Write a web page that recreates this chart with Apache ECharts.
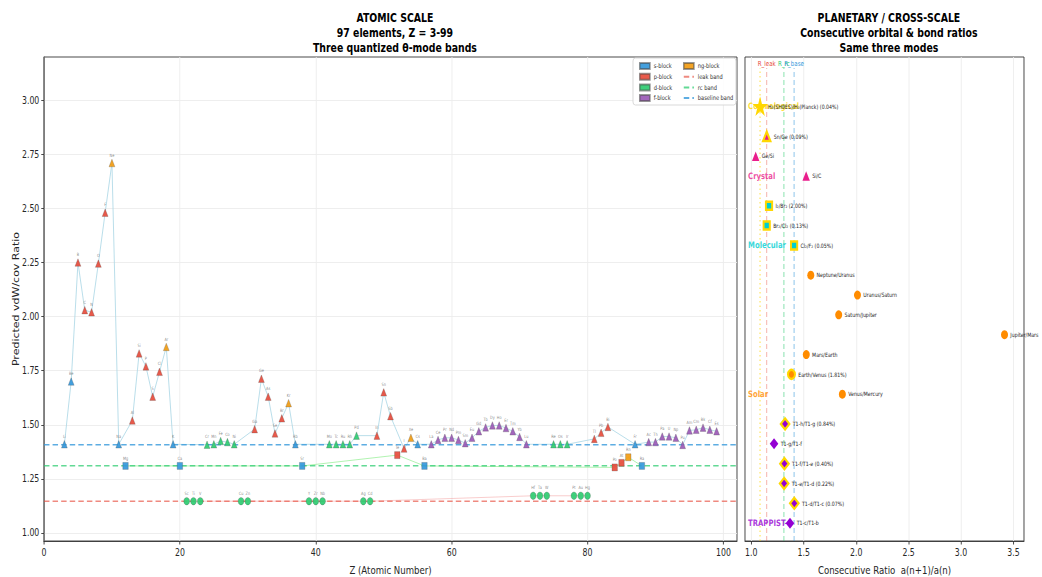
<!DOCTYPE html>
<html>
<head>
<meta charset="utf-8">
<title>Quantized θ-mode bands</title>
<script src="https://cdn.jsdelivr.net/npm/echarts@6/dist/echarts.min.js"></script>
<style>
  html, body { margin: 0; padding: 0; background: #fff; overflow: hidden; }
  #wrap { width: 1042px; height: 577px; overflow: hidden; position: relative; }
  /* the figure is laid out on a wider canvas and compressed horizontally */
  #chart { width: 1336px; height: 577px; transform: scaleX(0.779940); transform-origin: 0 0; }
</style>
</head>
<body>
<div id="wrap"><div id="chart"></div></div>
<script>
// ---------------- atomic scale data (Z = 3..99) ----------------
const firstZ = 3;
const elements = [
  'Li','Be','B','C','N','O','F','Ne',
  'Na','Mg','Al','Si','P','S','Cl','Ar',
  'K','Ca','Sc','Ti','V','Cr','Mn','Fe','Co','Ni','Cu','Zn','Ga','Ge','As','Se','Br','Kr',
  'Rb','Sr','Y','Zr','Nb','Mo','Tc','Ru','Rh','Pd','Ag','Cd','In','Sn','Sb','Te','I','Xe',
  'Cs','Ba','La','Ce','Pr','Nd','Pm','Sm','Eu','Gd','Tb','Dy','Ho','Er','Tm','Yb','Lu',
  'Hf','Ta','W','Re','Os','Ir','Pt','Au','Hg','Tl','Pb','Bi','Po','At','Rn',
  'Fr','Ra','Ac','Th','Pa','U','Np','Pu','Am','Cm','Bk','Cf','Es'
];
const predictedRatio = [
  1.41, 1.70, 2.25, 2.03, 2.02, 2.245, 2.48, 2.71,
  1.41, 1.31, 1.52, 1.83, 1.77, 1.63, 1.745, 1.86,
  1.41, 1.31, 1.147, 1.147, 1.147, 1.408, 1.41, 1.425, 1.42, 1.41, 1.147, 1.147, 1.48, 1.713, 1.63, 1.46, 1.53, 1.60,
  1.41, 1.31, 1.147, 1.147, 1.147, 1.41, 1.41, 1.41, 1.41, 1.45, 1.147, 1.147, 1.45, 1.65, 1.54, 1.36, 1.39, 1.44,
  1.41, 1.31, 1.41, 1.43, 1.44, 1.44, 1.43, 1.415, 1.44, 1.47, 1.488, 1.497, 1.497, 1.485, 1.47, 1.444, 1.41,
  1.172, 1.172, 1.172, 1.41, 1.41, 1.41, 1.172, 1.172, 1.172, 1.435, 1.463, 1.49, 1.303, 1.324, 1.35,
  1.41, 1.31, 1.42, 1.42, 1.446, 1.446, 1.44, 1.407, 1.474, 1.477, 1.487, 1.477, 1.47
];
// block of each element: s, p, d, f, g (= noble gas)
const blockCodes = (
  'sspppppg' + 'sspppppg' +
  'ss' + 'dddddddddd' + 'ppppp' + 'g' +
  'ss' + 'dddddddddd' + 'ppppp' + 'g' +
  'ss' + 'fffffffffffffff' + 'ddddddddd' + 'ppppp' + 'g' +
  'ss' + 'fffffffffff'
).split('');
// assigned mode of each element: b = baseline, r = rc, l = leak
const modeCodes = (
  'bbbbbbbb' + 'brbbbbbb' +
  'brlllbbbbbllbbbbbb' +
  'brlllbbbbbllbbbrbb' +
  'br' + 'bbbbbbbbbbbbbbb' + 'lll' + 'bbb' + 'lll' + 'bbb' + 'rrr' +
  'br' + 'bbbbbbbbbbb'
).split('');

const blockOrder = ['s', 'p', 'd', 'f', 'g'];
const blockNames = ['s-block', 'p-block', 'd-block', 'f-block', 'ng-block'];

// the three quantized bands
const bandNames = ['leak band', 'rc band', 'baseline band'];
const bandRatios = [1.147, 1.311, 1.408];

// tick labels
const zTicks = [0, 20, 40, 60, 80, 100];
const ratioTicks = [1.00, 1.25, 1.50, 1.75, 2.00, 2.25, 2.50, 2.75, 3.00];
const crossTicks = [1.0, 1.5, 2.0, 2.5, 3.0, 3.5];

// ---------------- cross-scale data (listed bottom to top) ----------------
const groupNames = ['TRAPPIST-1', 'Solar', 'Molecular', 'Crystal', 'Cosmological'];
const trappistPairs = ['T1-c/T1-b', 'T1-d/T1-c', 'T1-e/T1-d', 'T1-f/T1-e', 'T1-g/T1-f', 'T1-h/T1-g'];
const trappistRatios = [1.369, 1.410, 1.313, 1.316, 1.217, 1.322];
const trappistDev = ['', '0.07%', '0.22%', '0.40%', '', '0.84%'];
const solarPairs = ['Venus/Mercury', 'Earth/Venus', 'Mars/Earth', 'Jupiter/Mars', 'Saturn/Jupiter', 'Uranus/Saturn', 'Neptune/Uranus'];
const solarRatios = [1.868, 1.383, 1.524, 3.414, 1.833, 2.012, 1.567];
const solarDev = ['', '1.81%', '', '', '', '', ''];
const molecularPairs = ['Cl₂/F₂', 'Br₂/Cl₂', 'I₂/Br₂'];
const molecularRatios = [1.408, 1.147, 1.169];
const molecularDev = ['0.05%', '0.13%', '2.00%'];
const crystalPairs = ['Si/C', 'Ge/Si', 'Sn/Ge'];
const crystalRatios = [1.523, 1.042, 1.147];
const crystalDev = ['', '', '0.09%'];
const cosmoPairs = ['H₀(SH0ES)/H₀(Planck)'];
const cosmoRatios = [1.084];
const cosmoDev = ['0.04%'];

const modeLineNames = ['', 'R_leak', 'R_rc', 'R_base'];
const modeLineRatios = [1.0833, 1.147, 1.311, 1.408];

// ---------------- styling ----------------
const SX = 1042 / 1336;
const ux = x => x / SX;          // page x -> layout x
const FONT = 'DejaVu Sans';
const CLEAR = 'rgba(0,0,0,0)';
const blockColor = { s: '#3498db', p: '#e74c3c', d: '#2ecc71', f: '#9b59b6', g: '#f39c12' };
const modeSymbol = { b: 'triangle', r: 'rect', l: 'circle' };
const modeSize = { b: 7.5, r: 7, l: 7.5 };
const modeLink = { b: 'rgba(173,216,230,0.95)', r: 'rgba(144,238,144,0.8)', l: 'rgba(240,128,128,0.45)' };
const bandColor = ['rgba(231,76,60,0.65)', 'rgba(46,204,113,0.75)', 'rgba(52,152,219,0.8)'];
const modeLineColor = ['rgba(255,215,0,0.8)', 'rgba(231,76,60,0.45)', 'rgba(46,204,113,0.6)', 'rgba(52,152,219,0.6)'];
const modeTextColor = ['#e6c200', '#e74c3c', '#2ecc71', '#3498db'];
const modeLineDash = [[1.5, 3], [5, 3], [5, 3], [5, 3]];
const groupColor = ['#9400d3', '#ff8c00', '#00ced1', '#e91e8c', '#ffd700'];
const groupSymbol = ['diamond', 'circle', 'rect', 'triangle',
  'path://M50,0 L61.8,35.4 L99,35.4 L69,57.3 L80.4,92.7 L50,70.8 L19.6,92.7 L31,57.3 L1,35.4 L38.2,35.4 Z'];
const groupSize = [11, 9, 8, 9.5, 12];

const xLeftMin = 0, xLeftMax = 102, yLeftMin = 0.963, yLeftMax = 3.2;
const xRightMin = 0.94, xRightMax = 3.6, yRightMin = -0.9, yRightMax = 23.5;

// ---------------- build series ----------------
const points = elements.map((sym, i) => ({
  z: firstZ + i, sym, v: predictedRatio[i], block: blockCodes[i], mode: modeCodes[i]
}));

const series = [];

// thin links joining elements of the same mode in Z order
['b', 'r', 'l'].forEach(m => {
  series.push({
    type: 'line', name: 'link-' + m, xAxisIndex: 0, yAxisIndex: 0,
    data: points.filter(p => p.mode === m).map(p => [p.z, p.v]),
    symbol: 'none', silent: true, z: 1,
    lineStyle: { color: modeLink[m], width: 1 }
  });
});

// band reference lines (transparent item colour keeps the legend icon a plain dashed line)
bandNames.forEach((name, i) => {
  series.push({
    type: 'line', name, xAxisIndex: 0, yAxisIndex: 0,
    data: [[xLeftMin, bandRatios[i]], [xLeftMax, bandRatios[i]]],
    symbol: 'none', silent: true, z: 2,
    lineStyle: { color: bandColor[i], width: 1.6, type: [7, 4] },
    itemStyle: { color: CLEAR, borderColor: CLEAR }
  });
});

// element markers, coloured by block and shaped by mode
blockOrder.forEach((b, bi) => {
  ['b', 'r', 'l'].forEach(m => {
    const data = points.filter(p => p.block === b && p.mode === m).map(p => [p.z, p.v, p.sym]);
    if (!data.length) return;
    series.push({
      type: 'scatter', name: blockNames[bi], xAxisIndex: 0, yAxisIndex: 0,
      data, symbol: modeSymbol[m], symbolSize: modeSize[m], z: 4,
      itemStyle: { color: blockColor[b], borderColor: 'rgba(70,70,70,0.6)', borderWidth: 0.5, opacity: 0.92 },
      label: {
        show: true, position: 'top', distance: 1.5, fontSize: 4.5, color: '#808080',
        fontFamily: FONT, formatter: p => p.data[2]
      }
    });
  });
});

// cross-scale groups
const groups = [
  [trappistPairs, trappistRatios, trappistDev],
  [solarPairs, solarRatios, solarDev],
  [molecularPairs, molecularRatios, molecularDev],
  [crystalPairs, crystalRatios, crystalDev],
  [cosmoPairs, cosmoRatios, cosmoDev]
];

// vertical mode lines
modeLineNames.forEach((name, i) => {
  series.push({
    type: 'line', name: 'mode-' + i, xAxisIndex: 1, yAxisIndex: 1, silent: true, z: 2,
    data: [
      [modeLineRatios[i], yRightMin],
      { value: [modeLineRatios[i], 22.95],
        label: { show: !!name, position: 'top', distance: 1, formatter: name,
                 color: modeTextColor[i], fontSize: 7, fontFamily: FONT } }
    ],
    symbol: 'circle', symbolSize: 0, showSymbol: true,
    lineStyle: { color: modeLineColor[i], width: 1.2, type: modeLineDash[i] },
    itemStyle: { color: CLEAR }
  });
});

let row = 0;
const groupLabelData = [];
groups.forEach(([pairs, ratios, devs], g) => {
  if (g > 0) row += 0.5;
  groupLabelData.push({ value: [xRightMin, row], name: groupNames[g], label: { color: groupColor[g] } });
  const data = pairs.map((pair, k) => {
    const item = {
      value: [ratios[k], row + k],
      name: devs[k] ? pair + ' (' + devs[k] + ')' : pair
    };
    if (devs[k]) item.itemStyle = { borderColor: '#ffd700', borderWidth: 2.5 };
    return item;
  });
  row += pairs.length;
  series.push({
    type: 'scatter', name: groupNames[g], xAxisIndex: 1, yAxisIndex: 1, z: 4,
    data, symbol: groupSymbol[g], symbolSize: groupSize[g],
    itemStyle: { color: groupColor[g], opacity: 1 },
    label: { show: true, position: 'right', distance: 3, fontSize: 6, color: '#222', fontFamily: FONT,
             formatter: p => p.name }
  });
});

series.push({
  type: 'scatter', name: 'group-labels', xAxisIndex: 1, yAxisIndex: 1, z: 3, clip: false, silent: true,
  data: groupLabelData, symbolSize: 0,
  label: { show: true, position: 'right', distance: 4, fontSize: 8.8, fontWeight: 'bold', fontFamily: FONT,
           formatter: p => p.name }
});

// ---------------- option ----------------
const axisText = { fontSize: 10, color: '#262626', fontFamily: FONT };
const nameText = { fontSize: 11, color: '#262626', fontFamily: FONT };
const titleText = { fontSize: 12, fontWeight: 'bold', lineHeight: 15, color: '#000', fontFamily: FONT };

const option = {
  animation: false,
  backgroundColor: '#fff',
  textStyle: { fontFamily: FONT },
  title: [
    { text: 'ATOMIC SCALE\n97 elements, Z = 3-99\nThree quantized θ-mode bands',
      left: ux(391), top: 6, textAlign: 'center', textStyle: titleText },
    { text: 'PLANETARY / CROSS-SCALE\nConsecutive orbital & bond ratios\nSame three modes',
      left: ux(885), top: 6, textAlign: 'center', textStyle: titleText }
  ],
  grid: [
    { left: ux(44), right: 1336 - ux(737), top: 57, bottom: 36, show: true, outerBoundsMode: 'none',
      borderColor: '#333', borderWidth: 1, backgroundColor: CLEAR },
    { left: ux(745), right: 1336 - ux(1024), top: 57, bottom: 36, show: true, outerBoundsMode: 'none',
      borderColor: '#333', borderWidth: 1, backgroundColor: CLEAR }
  ],
  legend: [
    { data: blockNames.slice(0, 4).map(n => ({ name: n, icon: 'rect' })),
      orient: 'vertical', left: ux(639), top: 62, padding: 0, itemGap: 2.7,
      itemWidth: 13, itemHeight: 6, z: 10, selectedMode: false,
      textStyle: { fontSize: 6.5, lineHeight: 8, color: '#333', fontFamily: FONT } },
    { data: [{ name: blockNames[4], icon: 'rect' }].concat(bandNames.map(n => ({ name: n }))),
      orient: 'vertical', left: ux(683), top: 62, padding: 0, itemGap: 2.7,
      itemWidth: 13, itemHeight: 6, z: 10, selectedMode: false,
      textStyle: { fontSize: 6.5, lineHeight: 8, color: '#333', fontFamily: FONT } }
  ],
  graphic: [
    { type: 'rect', z: 5,
      shape: { x: ux(633), y: 58, width: ux(736) - ux(633), height: 47, r: 3 },
      style: { fill: 'rgba(255,255,255,0.85)', stroke: '#d4d4d4', lineWidth: 1 } }
  ],
  xAxis: [
    { type: 'value', gridIndex: 0, min: xLeftMin, max: xLeftMax,
      name: 'Z (Atomic Number)', nameLocation: 'middle', nameGap: 24, nameMoveOverlap: false,
      nameTextStyle: nameText,
      axisLine: { show: true, onZero: false, lineStyle: { color: '#333' } },
      axisTick: { show: true, length: 3.5, customValues: zTicks, lineStyle: { color: '#333' } },
      axisLabel: { ...axisText, margin: 7, customValues: zTicks },
      splitLine: { show: true, lineStyle: { color: '#ececec', width: 1 } } },
    { type: 'value', gridIndex: 1, min: xRightMin, max: xRightMax,
      name: 'Consecutive Ratio  a(n+1)/a(n)', nameLocation: 'middle', nameGap: 24, nameMoveOverlap: false,
      nameTextStyle: nameText,
      axisLine: { show: true, onZero: false, lineStyle: { color: '#333' } },
      axisTick: { show: true, length: 3.5, customValues: crossTicks, lineStyle: { color: '#333' } },
      axisLabel: { ...axisText, margin: 7, customValues: crossTicks, formatter: v => v.toFixed(1) },
      splitLine: { show: true, lineStyle: { color: '#ececec', width: 1 } } }
  ],
  yAxis: [
    { type: 'value', gridIndex: 0, min: yLeftMin, max: yLeftMax,
      name: 'Predicted vdW/cov Ratio', nameLocation: 'middle', nameGap: 30, nameMoveOverlap: false,
      nameTextStyle: nameText,
      axisLine: { show: true, onZero: false, lineStyle: { color: '#333' } },
      axisTick: { show: true, length: 3.5, customValues: ratioTicks, lineStyle: { color: '#333' } },
      axisLabel: { fontSize: 10, color: '#262626', fontFamily: FONT, margin: 6, customValues: ratioTicks,
                   formatter: v => v.toFixed(2) },
      splitLine: { show: true, lineStyle: { color: '#ececec', width: 1 } } },
    { type: 'value', gridIndex: 1, min: yRightMin, max: yRightMax,
      axisLine: { show: false }, axisTick: { show: false }, axisLabel: { show: false },
      splitLine: { show: false } }
  ],
  series
};

const chart = echarts.init(document.getElementById('chart'), null, { renderer: 'svg', width: 1336, height: 577 });
chart.setOption(option);
</script>
</body>
</html>
